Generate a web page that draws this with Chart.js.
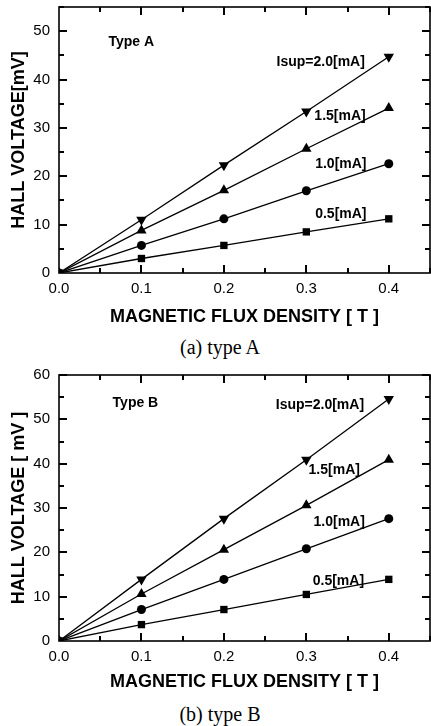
<!DOCTYPE html>
<html>
<head>
<meta charset="utf-8">
<script src="https://cdn.jsdelivr.net/npm/chart.js@4.4.0/dist/chart.umd.min.js"></script>
<style>
  body { margin: 0; background: #fff; width: 431px; height: 726px; position: relative; overflow: hidden; }
  .box { position: absolute; left: 0; width: 436px; }
  .cap { position: absolute; left: 0; width: 440px; text-align: center; font-family: "Liberation Serif", serif; font-size: 20px; line-height: 22px; color: #000; }
</style>
</head>
<body>
<div class="box" style="top:0;height:328px"><canvas id="chartA"></canvas></div>
<div class="cap" style="top:336px">(a) type A</div>
<div class="box" style="top:362px;height:331px"><canvas id="chartB"></canvas></div>
<div class="cap" style="top:703px">(b) type B</div>
<script>
// magnetic flux density [T]
var fluxDensity = [0, 0.1, 0.2, 0.3, 0.4];
var currentLabels = ['0.5[mA]', '1.0[mA]', '1.5[mA]', 'Isup=2.0[mA]'];
var markerStyles = ['rect', 'circle', 'triangle', 'triangle'];
var markerRotation = [0, 0, 0, 180];
var markerRadius = [5.2, 4.5, 6, 6];

// hall voltage [mV], type A
var typeA_05 = [0, 3.0, 5.7, 8.5, 11.2];
var typeA_10 = [0, 5.7, 11.2, 17.0, 22.6];
var typeA_15 = [0, 8.8, 17.1, 25.7, 34.1];
var typeA_20 = [0, 11.0, 22.3, 33.4, 44.7];

// hall voltage [mV], type B
var typeB_05 = [0, 3.7, 7.1, 10.5, 13.9];
var typeB_10 = [0, 7.1, 13.9, 20.8, 27.6];
var typeB_15 = [0, 10.6, 20.6, 30.6, 40.9];
var typeB_20 = [0, 13.9, 27.6, 40.9, 54.6];

var xTickStep = 0.1, xMinorStep = 0.05;
var yTickStep = 10, yMinorStep = 5;
var tickW = 2;

/** frame, inward ticks and text notes **/
var framePlugin = {
  id: 'frame',
  afterDatasetsDraw: function (chart, args, opts) {
    var ctx = chart.ctx, a = chart.chartArea;
    var x = chart.scales.x, y = chart.scales.y;
    ctx.save();
    ctx.strokeStyle = '#000';
    ctx.lineWidth = 1.6;
    ctx.strokeRect(a.left, a.top, a.right - a.left, a.bottom - a.top);
    ctx.fillStyle = '#000';
    var k, p, len;
    var nx = Math.round(x.max / xMinorStep);
    var ny = Math.round(y.max / yMinorStep);
    for (k = 1; k <= nx; k++) {
      p = Math.round(x.getPixelForValue(k * xMinorStep));
      len = (k % 2 === 0) ? 8 : 5;
      ctx.fillRect(p - 1, a.bottom - len, tickW, len);
      ctx.fillRect(p - 1, a.top, tickW, len);
    }
    for (k = 1; k <= ny; k++) {
      p = Math.round(y.getPixelForValue(k * yMinorStep));
      len = (k % 2 === 0) ? 8 : 5;
      ctx.fillRect(a.left, p - 1, len, tickW);
      ctx.fillRect(a.right - len, p - 1, len, tickW);
    }

    ctx.font = 'bold 14px "Liberation Sans", Arial, sans-serif';
    ctx.textBaseline = 'middle';
    (opts.notes || []).forEach(function (m) {
      ctx.textAlign = m.align;
      ctx.fillText(m.text, x.getPixelForValue(m.x), y.getPixelForValue(m.y));
    });
    ctx.restore();
  }
};

function noScalePadding(s) {
  s.paddingTop = 0; s.paddingBottom = 0; s.paddingLeft = 0; s.paddingRight = 0;
}

function makeChart(id, series, yMax, yTitle, notes, padTop, xAxisHeight) {
  var datasets = series.map(function (vals, k) {
    return {
      label: currentLabels[k],
      data: fluxDensity.map(function (b, j) { return {x: b, y: vals[j]}; }),
      showLine: true,
      borderColor: '#000',
      borderWidth: 1.3,
      backgroundColor: '#000',
      pointBackgroundColor: '#000',
      pointBorderColor: '#000',
      pointBorderWidth: 0,
      pointStyle: markerStyles[k],
      pointRotation: markerRotation[k],
      pointRadius: markerRadius[k],
      tension: 0
    };
  });
  var tickFont = {family: '"Liberation Sans", Arial, sans-serif', size: 15};
  var titleFont = {family: '"Liberation Sans", Arial, sans-serif', size: 18, weight: 'bold'};
  var ctx = document.getElementById(id).getContext('2d');
  return new Chart(ctx, {
    type: 'scatter',
    data: {datasets: datasets},
    plugins: [framePlugin],
    options: {
      responsive: true,
      maintainAspectRatio: false,
      animation: false,
      layout: {padding: {top: padTop, right: 2, left: 0, bottom: 0}},
      plugins: {
        legend: {display: false},
        tooltip: {enabled: false},
        frame: {notes: notes}
      },
      scales: {
        x: {
          type: 'linear', min: 0, max: 0.45,
          grid: {display: false, drawTicks: false},
          border: {display: false},
          ticks: {stepSize: xTickStep, includeBounds: false, padding: 7, color: '#000', font: tickFont,
            callback: function (v) { return v.toFixed(1); }},
          title: {display: true, text: 'MAGNETIC FLUX DENSITY [ T ]', color: '#000', font: titleFont, padding: {top: 0, bottom: 0}},
          afterFit: function (s) { s.height = xAxisHeight; noScalePadding(s); }
        },
        y: {
          type: 'linear', min: 0, max: yMax,
          grid: {display: false, drawTicks: false},
          border: {display: false},
          ticks: {stepSize: yTickStep, includeBounds: false, padding: 9, color: '#000', font: tickFont},
          title: {display: true, text: yTitle, color: '#000', font: titleFont, padding: {top: 8, bottom: 0}},
          afterFit: function (s) { s.width = 59; noScalePadding(s); }
        }
      }
    }
  });
}

makeChart('chartA', [typeA_05, typeA_10, typeA_15, typeA_20], 55, 'HALL VOLTAGE[mV]', [
  {text: 'Type A', x: 0.06, y: 47.7, align: 'left'},
  {text: 'Isup=2.0[mA]', x: 0.371, y: 43.5, align: 'right'},
  {text: '1.5[mA]', x: 0.372, y: 32.4, align: 'right'},
  {text: '1.0[mA]', x: 0.373, y: 22.6, align: 'right'},
  {text: '0.5[mA]', x: 0.373, y: 12.1, align: 'right'}
], 7, 55);

makeChart('chartB', [typeB_05, typeB_10, typeB_15, typeB_20], 60, 'HALL VOLTAGE [ mV ]', [
  {text: 'Type B', x: 0.065, y: 53.6, align: 'left'},
  {text: 'Isup=2.0[mA]', x: 0.37, y: 53.3, align: 'right'},
  {text: '1.5[mA]', x: 0.365, y: 38.6, align: 'right'},
  {text: '1.0[mA]', x: 0.371, y: 26.8, align: 'right'},
  {text: '0.5[mA]', x: 0.37, y: 13.5, align: 'right'}
], 13, 52);
</script>
</body>
</html>
